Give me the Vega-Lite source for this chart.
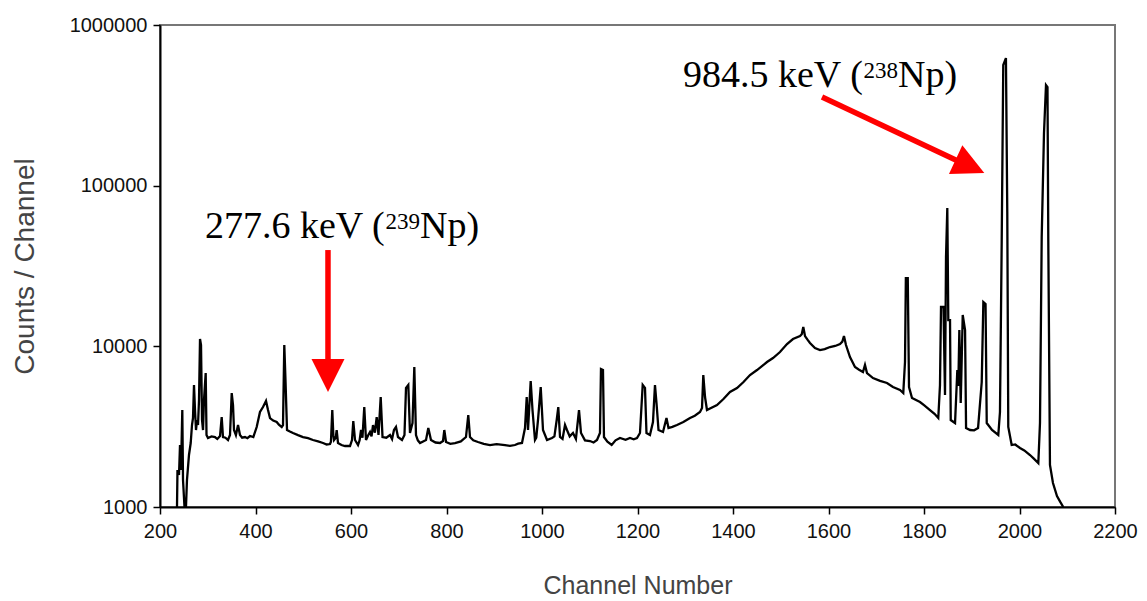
{
  "$schema": "https://vega.github.io/schema/vega-lite/v6.json",
  "width": 955,
  "height": 482,
  "autosize": {"type": "none"},
  "padding": {"left": 160, "top": 25, "right": 32, "bottom": 94},
  "background": "white",
  "config": {
    "view": {"stroke": "#777777", "strokeWidth": 2},
    "axis": {
      "grid": false,
      "labelFont": "Liberation Sans",
      "labelFontSize": 20,
      "labelColor": "#111111",
      "tickColor": "#000000",
      "tickSize": 7,
      "tickWidth": 1.5,
      "domainColor": "#000000",
      "domainWidth": 2,
      "titleFont": "Liberation Sans",
      "titleFontWeight": "normal",
      "titleColor": "#444444",
      "labelOverlap": false,
      "labelFlush": false
    }
  },
  "encoding": {
    "x": {
      "field": "channel",
      "type": "quantitative",
      "scale": {"domain": [200, 2200], "nice": false, "zero": false},
      "axis": {
        "title": "Channel Number",
        "values": [200, 400, 600, 800, 1000, 1200, 1400, 1600, 1800, 2000, 2200],
        "format": "d",
        "labelPadding": 7,
        "titleFontSize": 25,
        "titlePadding": 32
      }
    },
    "y": {
      "field": "counts",
      "type": "quantitative",
      "scale": {"type": "log", "domain": [1000, 1000000], "nice": false},
      "axis": {
        "title": "Counts / Channel",
        "values": [1000, 10000, 100000, 1000000],
        "format": "d",
        "labelPadding": 6,
        "titleFontSize": 28,
        "titlePadding": 30
      }
    }
  },
  "layer": [
    {
      "data": {"values": [
        {"channel": 235.6, "counts": 1000}, {"channel": 236.6, "counts": 1699}, {"channel": 239.8, "counts": 1582}, {"channel": 241.9, "counts": 2431}, {"channel": 244.0, "counts": 1699}, {"channel": 246.7, "counts": 4014}, {"channel": 248.2, "counts": 1472}, {"channel": 251.3, "counts": 1000}, {"channel": 254.4, "counts": 1000}, {"channel": 256.5, "counts": 1472}, {"channel": 260.7, "counts": 2107}, {"channel": 264.3, "counts": 2502}, {"channel": 267.0, "counts": 3237}, {"channel": 269.1, "counts": 3579}, {"channel": 271.2, "counts": 5744}, {"channel": 273.3, "counts": 4014}, {"channel": 275.4, "counts": 3014}, {"channel": 277.5, "counts": 3478}, {"channel": 279.6, "counts": 3237}, {"channel": 281.7, "counts": 4633}, {"channel": 283.8, "counts": 11105}, {"channel": 285.9, "counts": 10190}, {"channel": 288.0, "counts": 3478}, {"channel": 290.1, "counts": 3014}, {"channel": 292.1, "counts": 4633}, {"channel": 295.7, "counts": 6822}, {"channel": 297.4, "counts": 2806}, {"channel": 300.5, "counts": 2688}, {"channel": 308, "counts": 2750}, {"channel": 315.2, "counts": 2726}, {"channel": 320, "counts": 2650}, {"channel": 325.7, "counts": 2766}, {"channel": 329.2, "counts": 3631}, {"channel": 331.9, "counts": 2726}, {"channel": 337, "counts": 2700}, {"channel": 342.4, "counts": 2612}, {"channel": 346.6, "counts": 2806}, {"channel": 350.2, "counts": 5121}, {"channel": 352.9, "counts": 4313}, {"channel": 355.0, "counts": 3014}, {"channel": 359, "counts": 2800}, {"channel": 363.4, "counts": 3237}, {"channel": 367.5, "counts": 2806}, {"channel": 372, "counts": 2700}, {"channel": 378.0, "counts": 2726}, {"channel": 383, "counts": 2680}, {"channel": 388.5, "counts": 2766}, {"channel": 395.4, "counts": 2726}, {"channel": 402.5, "counts": 3147}, {"channel": 409.4, "counts": 3901}, {"channel": 415.7, "counts": 4191}, {"channel": 422.0, "counts": 4567}, {"channel": 426.2, "counts": 4014}, {"channel": 430.4, "counts": 3579}, {"channel": 437, "counts": 3450}, {"channel": 444.4, "counts": 3380}, {"channel": 449, "counts": 3250}, {"channel": 454.9, "counts": 3147}, {"channel": 457.6, "counts": 3237}, {"channel": 460.3, "counts": 10190}, {"channel": 462.8, "counts": 6170}, {"channel": 466.0, "counts": 3014}, {"channel": 472, "counts": 2950}, {"channel": 478.5, "counts": 2887}, {"channel": 489, "counts": 2800}, {"channel": 499.5, "counts": 2726}, {"channel": 510, "counts": 2680}, {"channel": 520.4, "counts": 2612}, {"channel": 531, "counts": 2560}, {"channel": 541.4, "counts": 2502}, {"channel": 549, "counts": 2450}, {"channel": 556.0, "counts": 2466}, {"channel": 558, "counts": 2550}, {"channel": 560.8, "counts": 4014}, {"channel": 563, "counts": 2800}, {"channel": 564.4, "counts": 2612}, {"channel": 568, "counts": 2700}, {"channel": 570.0, "counts": 3014}, {"channel": 572.8, "counts": 2502}, {"channel": 580, "counts": 2430}, {"channel": 587.4, "counts": 2397}, {"channel": 597.9, "counts": 2397}, {"channel": 602.1, "counts": 2612}, {"channel": 604.8, "counts": 3429}, {"channel": 608.4, "counts": 2612}, {"channel": 614.7, "counts": 2431}, {"channel": 618, "counts": 2600}, {"channel": 621.0, "counts": 3014}, {"channel": 624, "counts": 2700}, {"channel": 627.8, "counts": 4191}, {"channel": 631.4, "counts": 2612}, {"channel": 636, "counts": 2800}, {"channel": 639.8, "counts": 2929}, {"channel": 643, "counts": 2750}, {"channel": 646.1, "counts": 3237}, {"channel": 650, "counts": 2900}, {"channel": 653.8, "counts": 3631}, {"channel": 657.6, "counts": 2806}, {"channel": 662.2, "counts": 4836}, {"channel": 666.0, "counts": 2726}, {"channel": 674, "counts": 2700}, {"channel": 681.7, "counts": 2806}, {"channel": 686, "counts": 2650}, {"channel": 690.0, "counts": 3014}, {"channel": 694.2, "counts": 3147}, {"channel": 698.4, "counts": 2726}, {"channel": 706.8, "counts": 2612}, {"channel": 712.0, "counts": 2806}, {"channel": 715.2, "counts": 5502}, {"channel": 720.0, "counts": 5744}, {"channel": 723.5, "counts": 2887}, {"channel": 728.8, "counts": 3332}, {"channel": 732.6, "counts": 7433}, {"channel": 736.1, "counts": 2806}, {"channel": 740, "counts": 2600}, {"channel": 744.5, "counts": 2502}, {"channel": 751, "counts": 2560}, {"channel": 757.1, "counts": 2612}, {"channel": 761.9, "counts": 3102}, {"channel": 767.5, "counts": 2612}, {"channel": 777, "counts": 2520}, {"channel": 786.4, "counts": 2502}, {"channel": 792.7, "counts": 2575}, {"channel": 795.4, "counts": 3014}, {"channel": 799.0, "counts": 2538}, {"channel": 808, "counts": 2470}, {"channel": 817.8, "counts": 2502}, {"channel": 830, "counts": 2560}, {"channel": 840.8, "counts": 2726}, {"channel": 845.6, "counts": 3737}, {"channel": 849.2, "counts": 2726}, {"channel": 856, "counts": 2600}, {"channel": 865.9, "counts": 2538}, {"channel": 878, "counts": 2470}, {"channel": 891.1, "counts": 2431}, {"channel": 905, "counts": 2460}, {"channel": 922.5, "counts": 2431}, {"channel": 933, "counts": 2400}, {"channel": 943.4, "counts": 2431}, {"channel": 950, "counts": 2480}, {"channel": 958.1, "counts": 2502}, {"channel": 964.4, "counts": 3102}, {"channel": 968.0, "counts": 4836}, {"channel": 970.7, "counts": 3014}, {"channel": 976.3, "counts": 6083}, {"channel": 980.1, "counts": 4014}, {"channel": 985.3, "counts": 2612}, {"channel": 988, "counts": 2700}, {"channel": 991.6, "counts": 3478}, {"channel": 997.3, "counts": 5582}, {"channel": 1002.1, "counts": 3014}, {"channel": 1010.5, "counts": 2612}, {"channel": 1020.9, "counts": 2688}, {"channel": 1026, "counts": 2750}, {"channel": 1030.8, "counts": 3478}, {"channel": 1034.1, "counts": 4191}, {"channel": 1037.7, "counts": 2726}, {"channel": 1043, "counts": 2650}, {"channel": 1048.2, "counts": 3237}, {"channel": 1052.3, "counts": 3014}, {"channel": 1058, "counts": 2750}, {"channel": 1064.9, "counts": 2887}, {"channel": 1071, "counts": 2650}, {"channel": 1077.5, "counts": 4014}, {"channel": 1081.7, "counts": 2887}, {"channel": 1090, "counts": 2600}, {"channel": 1100.5, "counts": 2575}, {"channel": 1108, "counts": 2520}, {"channel": 1115.2, "counts": 2612}, {"channel": 1121.4, "counts": 2887}, {"channel": 1123.5, "counts": 7222}, {"channel": 1127.7, "counts": 7120}, {"channel": 1129.8, "counts": 2726}, {"channel": 1137, "counts": 2550}, {"channel": 1145.9, "counts": 2431}, {"channel": 1154, "counts": 2600}, {"channel": 1163.3, "counts": 2688}, {"channel": 1175, "counts": 2620}, {"channel": 1184.3, "counts": 2688}, {"channel": 1192, "counts": 2640}, {"channel": 1198.9, "counts": 2688}, {"channel": 1205.2, "counts": 2887}, {"channel": 1210.9, "counts": 5744}, {"channel": 1215.7, "counts": 5502}, {"channel": 1218.8, "counts": 2887}, {"channel": 1226.1, "counts": 2806}, {"channel": 1232.4, "counts": 3380}, {"channel": 1236.6, "counts": 5744}, {"channel": 1239.8, "counts": 4438}, {"channel": 1244.0, "counts": 3014}, {"channel": 1253.4, "counts": 2929}, {"channel": 1260.7, "counts": 3579}, {"channel": 1264.9, "counts": 3102}, {"channel": 1273, "counts": 3150}, {"channel": 1282.7, "counts": 3237}, {"channel": 1296, "counts": 3380}, {"channel": 1310.0, "counts": 3579}, {"channel": 1320, "counts": 3700}, {"channel": 1330.9, "counts": 3901}, {"channel": 1335.1, "counts": 4131}, {"channel": 1337.8, "counts": 6628}, {"channel": 1341.4, "counts": 4836}, {"channel": 1345.5, "counts": 4014}, {"channel": 1355, "counts": 4150}, {"channel": 1366.5, "counts": 4313}, {"channel": 1380, "counts": 4700}, {"channel": 1393.7, "counts": 5195}, {"channel": 1408.4, "counts": 5502}, {"channel": 1422, "counts": 6000}, {"channel": 1435.6, "counts": 6628}, {"channel": 1450.3, "counts": 7120}, {"channel": 1460, "counts": 7500}, {"channel": 1471.2, "counts": 7985}, {"channel": 1483.8, "counts": 8456}, {"channel": 1498.4, "counts": 9216}, {"channel": 1513.1, "counts": 10335}, {"channel": 1525.6, "counts": 11105}, {"channel": 1540.3, "counts": 11590}, {"channel": 1544, "counts": 11900}, {"channel": 1547.2, "counts": 13185}, {"channel": 1550.8, "counts": 11590}, {"channel": 1556, "counts": 11000}, {"channel": 1561.2, "counts": 10483}, {"channel": 1571.7, "counts": 9759}, {"channel": 1582.2, "counts": 9483}, {"channel": 1592, "counts": 9600}, {"channel": 1603.1, "counts": 9900}, {"channel": 1614, "counts": 10050}, {"channel": 1624.1, "counts": 10335}, {"channel": 1629, "counts": 10700}, {"channel": 1632.4, "counts": 11590}, {"channel": 1636.6, "counts": 10190}, {"channel": 1645.0, "counts": 8579}, {"channel": 1655.5, "counts": 7433}, {"channel": 1664, "counts": 7150}, {"channel": 1672.2, "counts": 6921}, {"channel": 1676.4, "counts": 7649}, {"channel": 1680.6, "counts": 6822}, {"channel": 1693.2, "counts": 6350}, {"channel": 1708, "counts": 6100}, {"channel": 1722.5, "counts": 5911}, {"channel": 1735.0, "counts": 5582}, {"channel": 1749.7, "counts": 5347}, {"channel": 1756.6, "counts": 5121}, {"channel": 1760.2, "counts": 7985}, {"channel": 1762.0, "counts": 26610}, {"channel": 1766.0, "counts": 26610}, {"channel": 1768.6, "counts": 5582}, {"channel": 1774.9, "counts": 4767}, {"channel": 1791.6, "counts": 4502}, {"channel": 1800, "counts": 4300}, {"channel": 1812.5, "counts": 4014}, {"channel": 1822, "counts": 3800}, {"channel": 1829.9, "counts": 3579}, {"channel": 1833.5, "counts": 5744}, {"channel": 1835.6, "counts": 17570}, {"channel": 1840.8, "counts": 17570}, {"channel": 1844.0, "counts": 4977}, {"channel": 1846.1, "counts": 35950}, {"channel": 1848.8, "counts": 72540}, {"channel": 1850.9, "counts": 14575}, {"channel": 1854.5, "counts": 14575}, {"channel": 1856.0, "counts": 3478}, {"channel": 1865.0, "counts": 3332}, {"channel": 1869.8, "counts": 7120}, {"channel": 1871.9, "counts": 5662}, {"channel": 1874.0, "counts": 12630}, {"channel": 1876.9, "counts": 4438}, {"channel": 1881.1, "counts": 15660}, {"channel": 1886.0, "counts": 12630}, {"channel": 1888.1, "counts": 3102}, {"channel": 1896.5, "counts": 3014}, {"channel": 1905, "counts": 3000}, {"channel": 1913.2, "counts": 3102}, {"channel": 1920.9, "counts": 5997}, {"channel": 1924.3, "counts": 18870}, {"channel": 1928.9, "counts": 18330}, {"channel": 1931.4, "counts": 3332}, {"channel": 1942.4, "counts": 3014}, {"channel": 1955.6, "counts": 2806}, {"channel": 1959.1, "counts": 3901}, {"channel": 1962.7, "counts": 43940}, {"channel": 1966.0, "counts": 563000}, {"channel": 1971.6, "counts": 622300}, {"channel": 1974.4, "counts": 68480}, {"channel": 1976.5, "counts": 3147}, {"channel": 1983.6, "counts": 2431}, {"channel": 1991, "counts": 2450}, {"channel": 2001.0, "counts": 2329}, {"channel": 2010, "counts": 2250}, {"channel": 2022.0, "counts": 2107}, {"channel": 2030, "counts": 2000}, {"channel": 2039.4, "counts": 1878}, {"channel": 2042.9, "counts": 3332}, {"channel": 2046.5, "counts": 47860}, {"channel": 2051.3, "counts": 212500}, {"channel": 2055.5, "counts": 422700}, {"channel": 2058.6, "counts": 410800}, {"channel": 2060.3, "counts": 45860}, {"channel": 2063.8, "counts": 1825}, {"channel": 2070.1, "counts": 1411}, {"channel": 2078.5, "counts": 1171}, {"channel": 2085, "counts": 1080}, {"channel": 2091.7, "counts": 1000}
      ]},
      "mark": {"type": "line", "color": "#000000", "strokeWidth": 2.3, "clip": true}
    },
    {
      "data": {"values": [
        {"channel": 551.8, "counts": 39750, "channel2": 551.8, "counts2": 7985},
        {"channel": 1586.4, "counts": 355900, "channel2": 1875.4, "counts2": 140250}
      ]},
      "mark": {"type": "rule", "color": "#FF0000", "strokeWidth": 5.5},
      "encoding": {
        "x2": {"field": "channel2"},
        "y2": {"field": "counts2"}
      }
    },
    {
      "data": {"values": [{"channel": 551.8, "counts": 6581}]},
      "mark": {"type": "point", "shape": "M-1,-1L1,-1L0,1Z", "size": 1089, "filled": true, "color": "#FF0000", "opacity": 1, "strokeWidth": 0}
    },
    {
      "data": {"values": [{"channel": 1896.3, "counts": 131900}]},
      "mark": {"type": "point", "shape": "M-1,-1L1,-1L0,1Z", "size": 1000, "angle": 295, "filled": true, "color": "#FF0000", "opacity": 1, "strokeWidth": 0}
    },
    {
      "data": {"values": [
        {"channel": 294.2, "counts": 47200, "label": "277.6 keV ("},
        {"channel": 744.5, "counts": 47200, "label": "Np)"},
        {"channel": 1295.3, "counts": 410800, "label": "984.5 keV ("},
        {"channel": 1745.5, "counts": 410800, "label": "Np)"}
      ]},
      "mark": {"type": "text", "font": "Liberation Serif", "fontSize": 38, "align": "left", "baseline": "alphabetic", "color": "#000000"},
      "encoding": {"text": {"field": "label"}}
    },
    {
      "data": {"values": [
        {"channel": 672.2, "counts": 53700, "label": "239"},
        {"channel": 1673.3, "counts": 467300, "label": "238"}
      ]},
      "mark": {"type": "text", "font": "Liberation Serif", "fontSize": 23, "align": "left", "baseline": "alphabetic", "color": "#000000"},
      "encoding": {"text": {"field": "label"}}
    }
  ]
}
